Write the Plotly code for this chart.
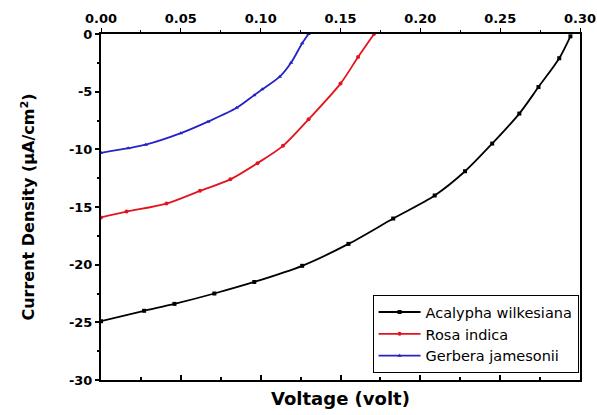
import plotly.graph_objects as go

# Data
acalypha_v = [0.0, 0.027, 0.046, 0.071, 0.096, 0.126, 0.155, 0.183, 0.209, 0.228, 0.245, 0.262, 0.274, 0.287, 0.294]
acalypha_j = [-24.9, -24.0, -23.4, -22.5, -21.5, -20.1, -18.2, -16.0, -14.0, -11.9, -9.5, -6.9, -4.6, -2.1, -0.2]

rosa_v = [0.0, 0.016, 0.041, 0.062, 0.081, 0.098, 0.114, 0.130, 0.150, 0.161, 0.171]
rosa_j = [-15.9, -15.4, -14.7, -13.6, -12.6, -11.2, -9.7, -7.4, -4.3, -2.0, 0.0]

gerbera_v = [0.0, 0.017, 0.028, 0.050, 0.067, 0.085, 0.096, 0.101, 0.112, 0.119, 0.126, 0.130]
gerbera_j = [-10.3, -9.9, -9.6, -8.6, -7.6, -6.4, -5.3, -4.8, -3.7, -2.5, -0.8, 0.0]

series_names = ["Acalypha wilkesiana", "Rosa indica", "Gerbera jamesonii"]
x_tick_vals = [0.0, 0.05, 0.10, 0.15, 0.20, 0.25, 0.30]
x_tick_text = ["0.00", "0.05", "0.10", "0.15", "0.20", "0.25", "0.30"]
y_tick_vals = [0, -5, -10, -15, -20, -25, -30]

FONT = "DejaVu Sans"

fig = go.Figure()
styles = [
    ("black", "square", acalypha_v, acalypha_j),
    ("#e3141e", "circle", rosa_v, rosa_j),
    ("#2424c4", "triangle-up", gerbera_v, gerbera_j),
]
for name, (col, sym, xs, ys) in zip(series_names, styles):
    fig.add_trace(go.Scatter(
        x=xs, y=ys, mode="lines+markers", name=name,
        line=dict(color=col, width=1.8, shape="spline", smoothing=0.8),
        marker=dict(color=col, symbol=sym, size=4),
    ))
# invisible trace to activate the top axis
fig.add_trace(go.Scatter(x=[0, 0.3], y=[0, 0], xaxis="x2", mode="lines",
                         line=dict(width=0), showlegend=False, hoverinfo="skip"))

tickfont = dict(family=FONT, size=13, color="black")
fig.update_layout(
    width=597, height=415,
    margin=dict(l=101, r=17, t=34, b=35, autoexpand=False),
    paper_bgcolor="white", plot_bgcolor="white",
    font=dict(family=FONT, color="black"),
    xaxis=dict(
        range=[0, 0.30], tickvals=x_tick_vals, showticklabels=False, automargin=False,
        ticks="inside", ticklen=5, tickwidth=1.5, tickcolor="black",
        minor=dict(dtick=0.025, ticks="inside", ticklen=3, tickcolor="black"),
        showline=True, linecolor="black", linewidth=2, showgrid=False, zeroline=False,
        title=dict(text="<b>Voltage (volt)</b>", font=dict(family=FONT, size=18), standoff=11),
    ),
    xaxis2=dict(
        range=[0, 0.30], overlaying="x", side="top", matches="x", automargin=False,
        tickvals=x_tick_vals, ticktext=["<b>%s</b>" % t for t in x_tick_text], tickfont=tickfont,
        ticks="outside", ticklen=4, tickwidth=1.2, tickcolor="black",
        minor=dict(dtick=0.025, ticks="outside", ticklen=2, tickcolor="black"),
        showline=True, linecolor="black", linewidth=1.5, showgrid=False, zeroline=False,
    ),
    yaxis=dict(
        range=[-30, 0], tickvals=y_tick_vals, automargin=False,
        ticktext=["<b>%d</b>" % v for v in y_tick_vals], tickfont=tickfont,
        ticks="outside", ticklen=4, tickwidth=1.5, tickcolor="black",
        minor=dict(dtick=2.5, ticks="outside", ticklen=2, tickcolor="black"),
        showline=True, linecolor="black", linewidth=2, mirror=True,
        showgrid=False, zeroline=False,
        title=dict(text="<b>Current Density (\u03bcA/cm<sup>2</sup>)</b>",
                   font=dict(family=FONT, size=16), standoff=30),
    ),
    legend=dict(
        x=0.997, y=0.02, xanchor="right", yanchor="bottom",
        bordercolor="black", borderwidth=1, bgcolor="white",
        font=dict(family=FONT, size=14.5, color="black"),
        tracegroupgap=0, itemwidth=42,
    ),
)

fig.write_html("out.html")
